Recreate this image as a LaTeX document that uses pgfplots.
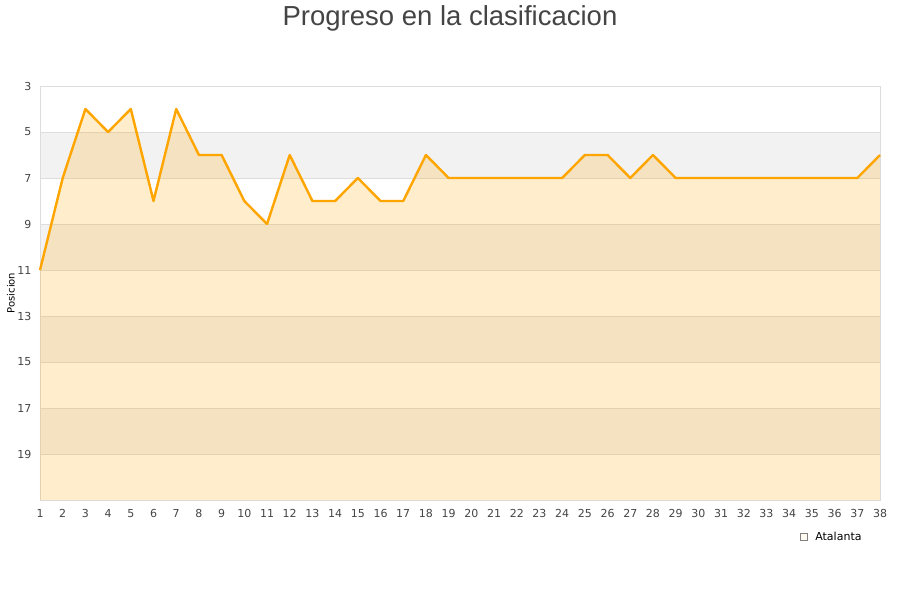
\documentclass[border=0pt]{standalone}
\usepackage{fontspec}
\setmainfont{DejaVu Sans}
\newfontfamily\titlefont{Liberation Sans}
\usepackage{pgfplots}
\pgfplotsset{compat=1.18}
\definecolor{linecol}{HTML}{FFA500}
\definecolor{bandcol}{HTML}{F2F2F2}
\definecolor{gridcol}{HTML}{DDDDDD}
\definecolor{txtcol}{HTML}{444444}
\begin{document}
\begin{tikzpicture}
\useasboundingbox (0pt,0pt) rectangle (900pt,600pt);
\node[font=\titlefont\fontsize{27.5}{32}\selectfont, text=txtcol] at (450pt,582pt) {Progreso en la clasificacion};
\begin{axis}[
  at={(40pt,100pt)}, anchor=south west,
  scale only axis, width=840pt, height=414pt,
  xmin=1, xmax=38, ymin=3, ymax=21,
  y dir=reverse,
  xtick={1,...,38},
  ytick={3,5,...,19},
  tick style={draw=none},
  axis line style={draw=none},
  ticklabel style={font=\fontsize{11}{13}\selectfont, text=txtcol},
  /pgf/number format/assume math mode=true,
  xticklabel style={yshift=-6pt},
  yticklabel style={xshift=-5pt},
  ylabel={Posicion},
  ylabel style={font=\fontsize{10.5}{12}\selectfont, text=txtcol},
  every axis y label/.style={at={(rel axis cs:0,0.5)}, xshift=-29pt, rotate=90, anchor=center},
  legend style={at={(rel axis cs:0.946,-0.089)}, anchor=center, draw=none, fill=none,
    font=\fontsize{11}{13}\selectfont, legend cell align=left,
    nodes={inner xsep=8pt}},
  legend image code/.code={\draw[draw=gray, fill=linecol!25, line width=0.6pt] (0pt,-3.5pt) rectangle (7pt,3.5pt);},
  clip=false,
]
\fill[bandcol] (axis cs:1,3) rectangle (axis cs:38,21);
\fill[white] (axis cs:1,3) rectangle (axis cs:38,5);
\fill[white] (axis cs:1,7) rectangle (axis cs:38,9);
\fill[white] (axis cs:1,11) rectangle (axis cs:38,13);
\fill[white] (axis cs:1,15) rectangle (axis cs:38,17);
\fill[white] (axis cs:1,19) rectangle (axis cs:38,21);
\foreach \yy in {5,7,...,19} {
  \edef\temp{\noexpand\draw[gridcol, line width=0.7pt] (axis cs:1,\yy) -- (axis cs:38,\yy);}
  \temp
}
\draw[gridcol, line width=0.9pt] (axis cs:1,3) rectangle (axis cs:38,21);
\addplot[draw=none, fill=linecol, fill opacity=0.2] coordinates {
 (1,21) (1,11) (2,7) (3,4) (4,5) (5,4) (6,8) (7,4) (8,6) (9,6) (10,8)
 (11,9) (12,6) (13,8) (14,8) (15,7) (16,8) (17,8) (18,6) (19,7) (20,7)
 (21,7) (22,7) (23,7) (24,7) (25,6) (26,6) (27,7) (28,6) (29,7) (30,7)
 (31,7) (32,7) (33,7) (34,7) (35,7) (36,7) (37,7) (38,6) (38,21)
} -- cycle;
\addlegendentry{Atalanta}
\addplot[draw=linecol, line width=2.4pt, line join=round, forget plot] coordinates {
 (1,11) (2,7) (3,4) (4,5) (5,4) (6,8) (7,4) (8,6) (9,6) (10,8)
 (11,9) (12,6) (13,8) (14,8) (15,7) (16,8) (17,8) (18,6) (19,7) (20,7)
 (21,7) (22,7) (23,7) (24,7) (25,6) (26,6) (27,7) (28,6) (29,7) (30,7)
 (31,7) (32,7) (33,7) (34,7) (35,7) (36,7) (37,7) (38,6)
};
\end{axis}
\end{tikzpicture}
\end{document}
